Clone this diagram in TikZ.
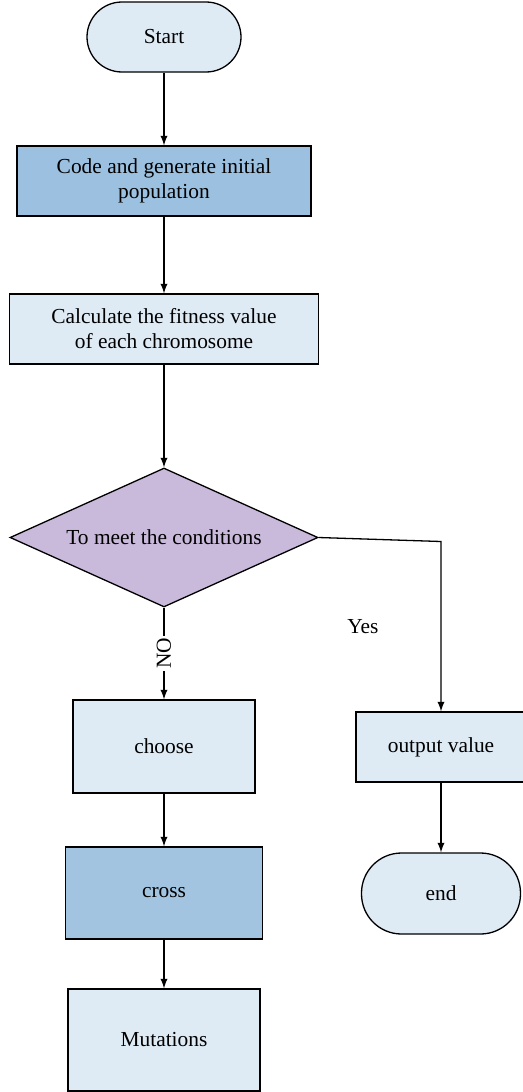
\documentclass[tikz,border=0pt]{standalone}
\usepackage{fontspec}
\setmainfont{Liberation Serif}
\usepackage{tikz}
\usetikzlibrary{arrows,shapes.geometric}

\definecolor{paleblue}{HTML}{DEEAF4}
\definecolor{midblue}{HTML}{9CC0E0}
\definecolor{crossblue}{HTML}{A3C4E0}
\definecolor{lilac}{HTML}{C9B9DB}

\tikzset{
  terminal/.style={draw, fill=paleblue, rounded corners=17.5pt, inner sep=0pt, align=center},
  stepbox/.style={draw, fill=paleblue, inner sep=0pt, align=center},
  decision/.style={draw, fill=lilac, diamond, aspect=2.2, inner sep=0pt, align=center}
}

\begin{document}
\begin{tikzpicture}[x=0.5pt, y=-0.5pt, line width=0.65pt,
  every node/.append style={font=\fontsize{10.7}{12.5}\selectfont}]

\useasboundingbox (0,0) rectangle (523,1092);

\path
  node[terminal, minimum width=77pt, minimum height=35pt] (start) at (164,37) {Start}
  node[stepbox, fill=midblue, minimum width=147pt, minimum height=35pt] (code) at (164,181) {Code and generate initial\\population}
  node[stepbox, minimum width=154.5pt, minimum height=35pt] (fitness) at (164,329) {Calculate the fitness value\\of each chromosome}
  node[decision, minimum width=154pt, minimum height=69.5pt] (cond) at (164,537.5) {To meet the conditions}
  node[stepbox, minimum width=91pt, minimum height=46.5pt] (choose) at (164,746.5) {choose}
  node[stepbox, fill=crossblue, minimum width=98.5pt, minimum height=46pt] (cross) at (164,893) {cross}
  node[stepbox, minimum width=96pt, minimum height=51pt] (mutation) at (164,1040) {Mutations}
  node[stepbox, minimum width=85pt, minimum height=35pt] (output) at (441,747) {output value}
  node[terminal, rounded corners=20pt, minimum width=79.5pt, minimum height=40.5pt] (finish) at (441,893.5) {end}
  node (yes) at (363,627) {Yes};

\coordinate (turn) at (441,541.5);

\begin{scope}[->,>=latex]
	% Main column
	\draw[->] (start.south) -- (code.north);
	\draw[->] (code.south) -- (fitness.north);
	\draw[->] (fitness.south) -- (cond.north);
	\draw[->] (cond.south) -- node[rotate=90, fill=white, inner sep=1pt] {NO} (choose.north);
	\draw[->] (choose.south) -- (cross.north);
	\draw[->] (cross.south) -- (mutation.north);
	% Yes branch
	\draw[->] (cond.east) -- (turn) -- (output.north);
	\draw[->] (output.south) -- (finish.north);
\end{scope}

\end{tikzpicture}
\end{document}
